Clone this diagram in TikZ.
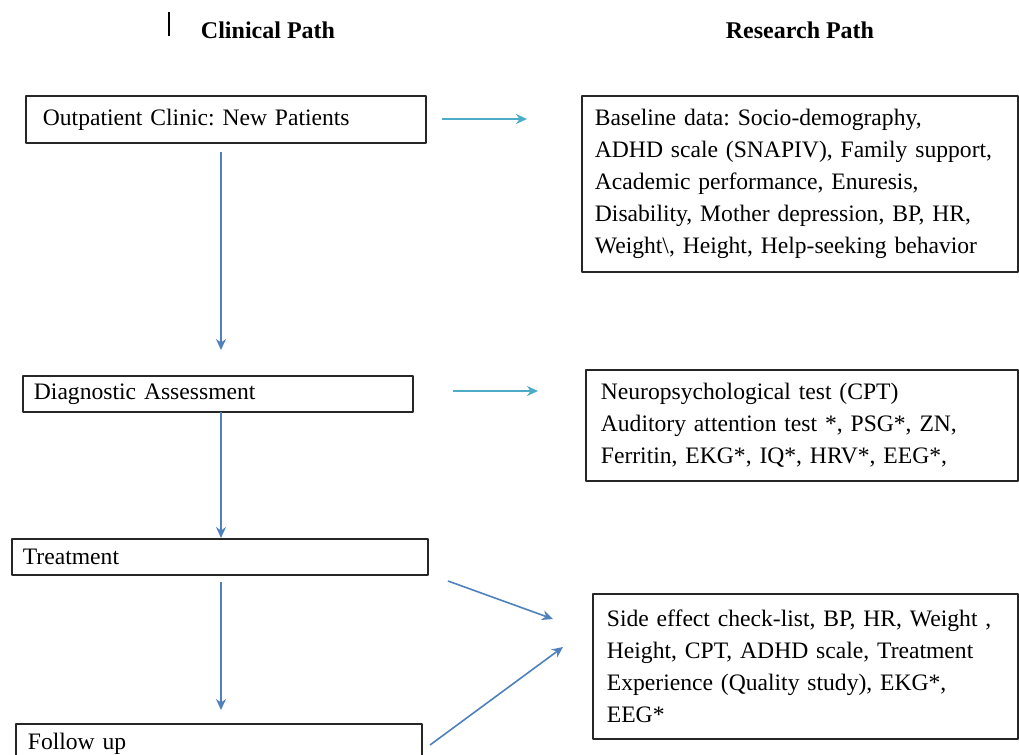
\documentclass[tikz,border=0pt]{standalone}
\usepackage{fontspec}
\setmainfont{Liberation Serif}
\usetikzlibrary{arrows.meta}
\definecolor{arrblue}{HTML}{4F81BD}
\definecolor{arrteal}{HTML}{4BACC6}
\frenchspacing
\begin{document}
\begin{tikzpicture}[x=0.5pt, y=-0.5pt, font=\fontsize{11.8}{16}\selectfont, line join=round, >={Stealth[length=5.5pt,width=5pt]},
	pathbox/.style={draw=black!85, line width=0.9pt, anchor=north west, align=left, inner ysep=0pt},
	flow/.style={->, arrblue, line width=0.8pt},
	feed/.style={->, arrteal, line width=0.8pt}]
	\useasboundingbox (0,0) rectangle (1019,755);
	% headings
	\node[font=\fontsize{12}{16}\selectfont\bfseries] (clinhead) at (268,30) {Clinical Path};
	\node[font=\fontsize{12}{16}\selectfont\bfseries] (reshead) at (800,30) {Research Path};
	\draw[line width=1.4pt] (169,12)--(169,36);
	% clinical path
	\node[pathbox, text width=183pt, inner xsep=8.5pt, minimum height=23.5pt] (clinic) at (25,95) {Outpatient Clinic: New Patients};
	\node[pathbox, text width=184pt, inner xsep=5.5pt, minimum height=18pt] (diag) at (22,375) {Diagnostic Assessment};
	\node[pathbox, text width=197pt, inner xsep=5.5pt, minimum height=18pt] (treat) at (11,538) {Treatment};
	\node[pathbox, text width=191pt, inner xsep=6pt, minimum height=20pt] (follow) at (15,723) {Follow up};
	% research path
	\node[pathbox, text width=205pt, inner xsep=6.5pt, minimum height=88pt] (baseline) at (581,95)
		{Baseline data: Socio-demography,\\ADHD scale (SNAPIV), Family support,\\Academic performance, Enuresis,\\Disability, Mother depression, BP, HR,\\Weight\textbackslash, Height, Help-seeking behavior};
	\node[pathbox, text width=201pt, inner xsep=7.5pt, minimum height=55.5pt] (neuro) at (585,369)
		{Neuropsychological test (CPT)\\Auditory attention test *, PSG*, ZN,\\Ferritin, EKG*, IQ*, HRV*, EEG*,};
	\node[pathbox, text width=198.5pt, inner xsep=7pt, minimum height=72.5pt] (sidefx) at (592,593)
		{Side effect check-list, BP, HR, Weight ,\\Height, CPT, ADHD scale, Treatment\\Experience (Quality study), EKG*,\\EEG*};
	% arrow ends
	\coordinate (c1) at (221,152);  \coordinate (c2) at (221,350);
	\coordinate (c3) at (221,412);  \coordinate (c4) at (221,538);
	\coordinate (c5) at (221,582);  \coordinate (c6) at (221,710);
	\coordinate (h1) at (442,119);  \coordinate (h2) at (527,119);
	\coordinate (h3) at (453,391);  \coordinate (h4) at (538,391);
	\coordinate (d1) at (448,581);  \coordinate (d2) at (553,619);
	\coordinate (d3) at (430,745);  \coordinate (d4) at (563,647);
	\draw[flow] (c1)--(c2);
	\draw[flow] (c3)--(c4);
	\draw[flow] (c5)--(c6);
	\draw[feed] (h1)--(h2);
	\draw[feed] (h3)--(h4);
	\draw[flow] (d1)--(d2);
	\draw[flow] (d3)--(d4);
\end{tikzpicture}
\end{document}
